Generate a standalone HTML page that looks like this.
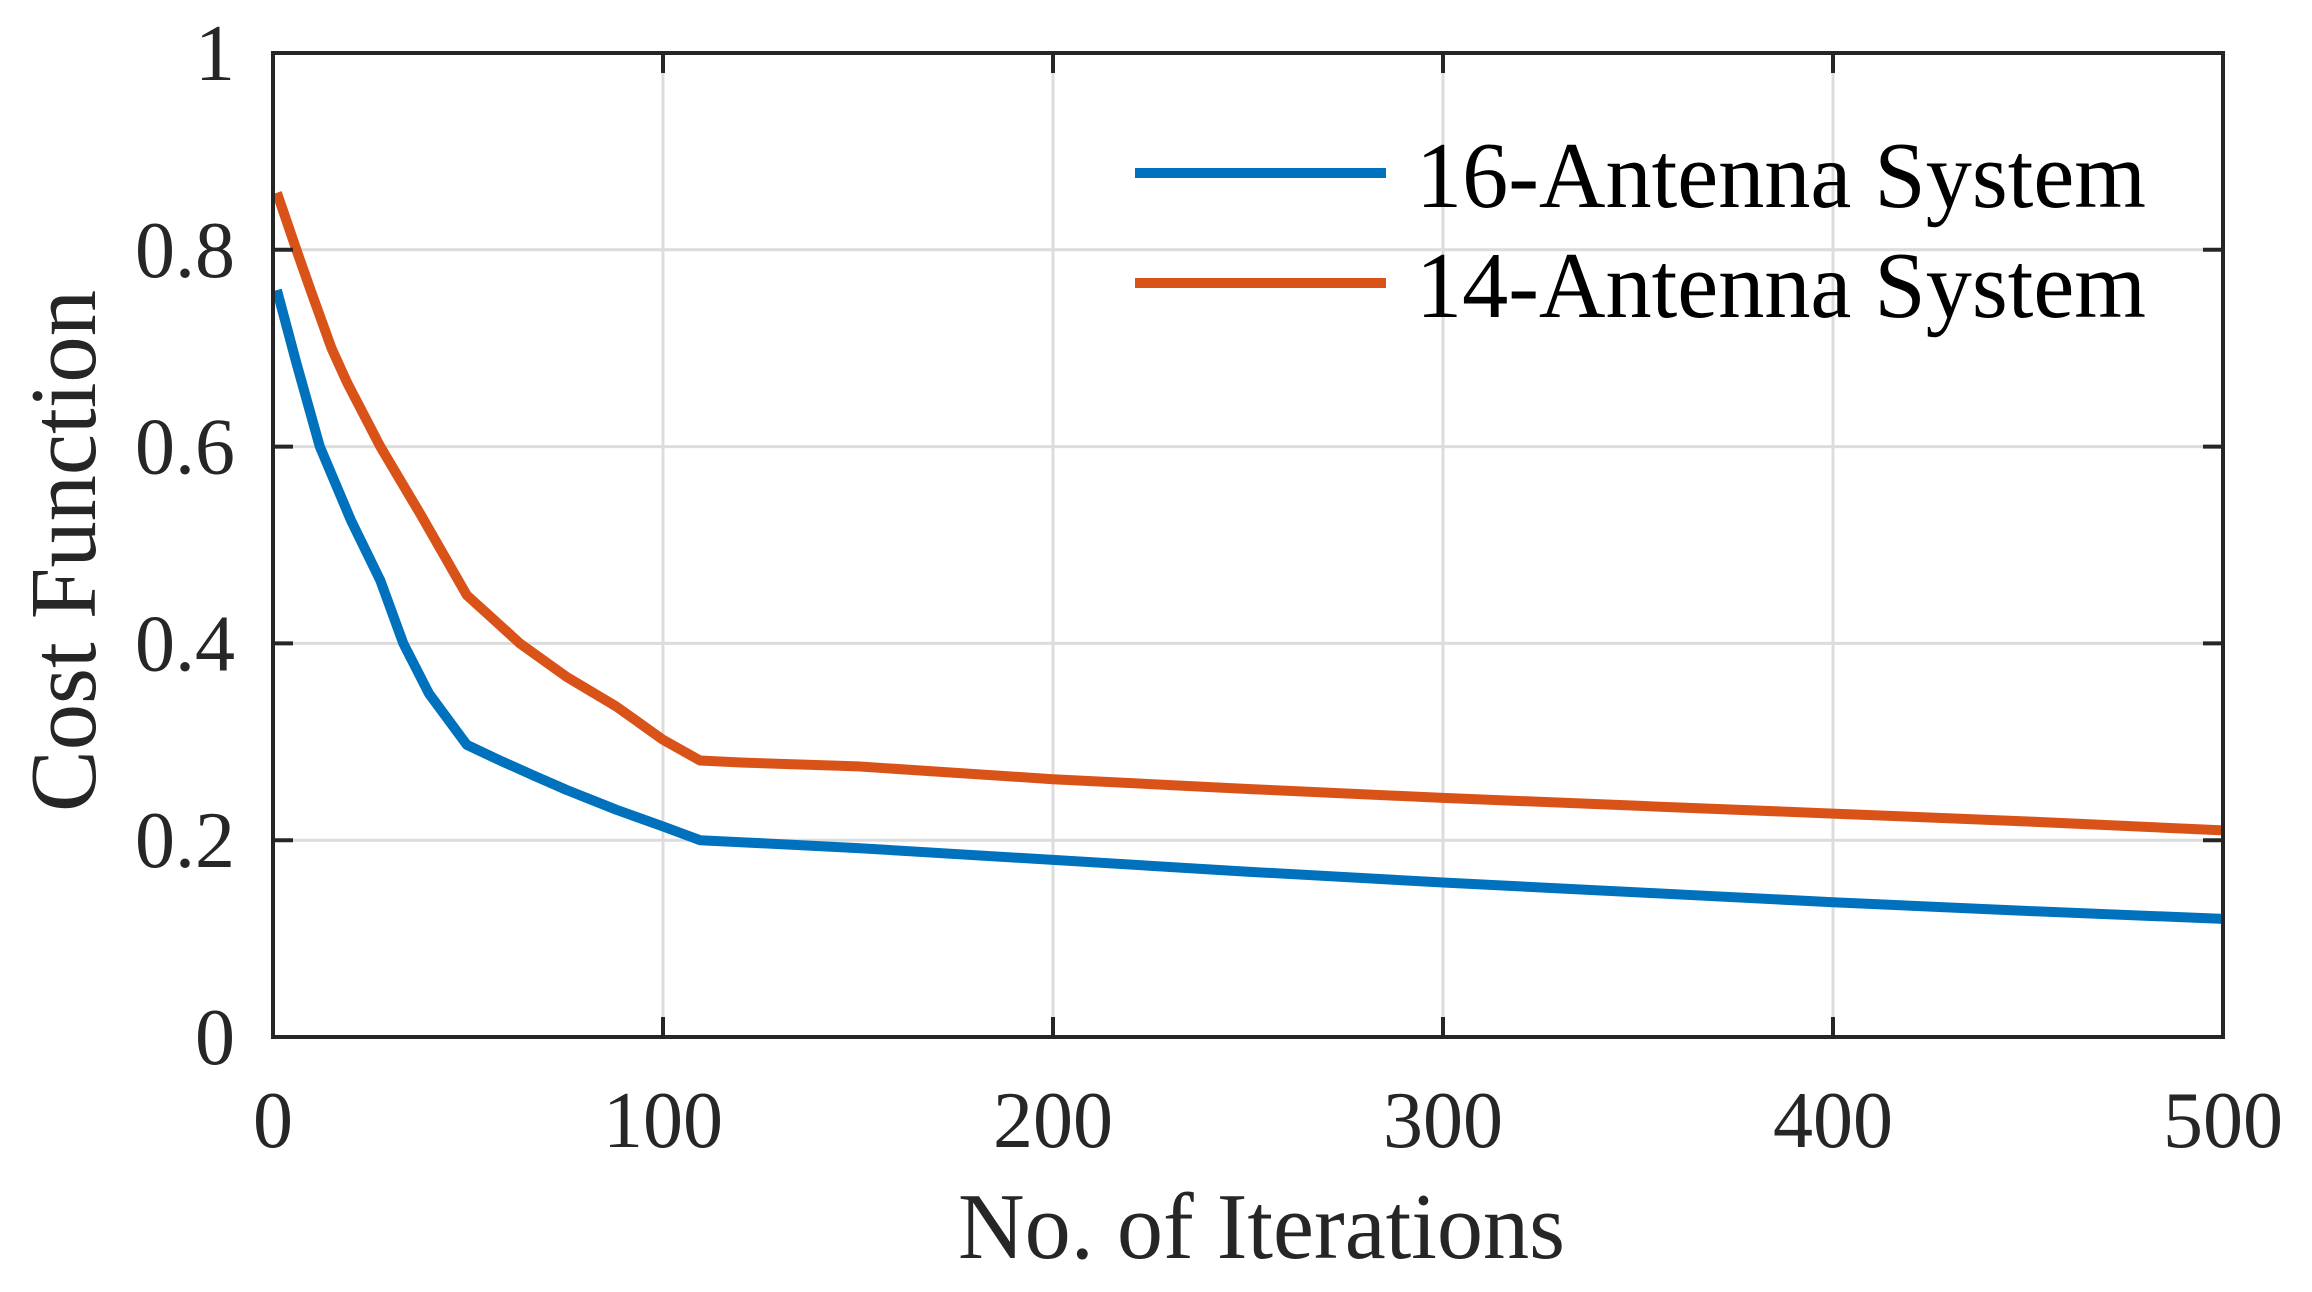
<!DOCTYPE html>
<html><head><meta charset="utf-8"><style>
html,body{margin:0;padding:0;background:#fff;}
svg{display:block;font-family:"Liberation Serif","Times New Roman",serif;}
</style></head><body>
<svg id="chart" width="2312" height="1292" viewBox="0 0 2312 1292"></svg>
<script>
const xTicks = [0,100,200,300,400,500];
const yTicks = [0,0.2,0.4,0.6,0.8,1];
const yTickLabels = ["0","0.2","0.4","0.6","0.8","1"];
const blueIters = [1,6,12,20,27.5,33.4,40,49.7,58.2,66.7,75.3,88,100,109.5,120,150,200,250,300,350,400,450,500];
const blueValues = [0.759,0.685,0.60,0.525,0.464,0.40,0.349,0.297,0.281,0.266,0.251,0.231,0.214,0.200,0.198,0.192,0.180,0.168,0.157,0.147,0.137,0.128,0.120];
const orangeIters = [1,6,10,15,19,27.5,38,49.7,55,63.3,75.3,88,100,109.5,120,150,200,250,300,350,400,450,500];
const orangeValues = [0.858,0.80,0.755,0.70,0.665,0.60,0.53,0.449,0.43,0.40,0.366,0.336,0.302,0.281,0.279,0.275,0.262,0.252,0.243,0.235,0.227,0.219,0.210];
const seriesNames = ["16-Antenna System","14-Antenna System"];
const seriesColors = ["#0072BD","#D95319"];

const L=273,R=2223,T=53,B=1037;
const xS=v=>L+(v-0)/(500-0)*(R-L);
const yS=v=>B-(v-0)/(1-0)*(B-T);
const svg=document.getElementById('chart');
const NS='http://www.w3.org/2000/svg';
function mk(tag,attrs,parent){const e=document.createElementNS(NS,tag);for(const k in attrs)e.setAttribute(k,attrs[k]);(parent||svg).appendChild(e);return e;}

xTicks.forEach(t=>{const g=mk('line',{x1:xS(t),x2:xS(t),y1:T,y2:B,stroke:'#dcdcdc','stroke-width':3});

});
yTicks.forEach(t=>{const g=mk('line',{x1:L,x2:R,y1:yS(t),y2:yS(t),stroke:'#dcdcdc','stroke-width':3});

});

[[blueIters,blueValues],[orangeIters,orangeValues]].forEach((s,i)=>{
  const d=s[1].map((v,j)=>(j?'L':'M')+xS(s[0][j]).toFixed(1)+' '+yS(v).toFixed(1)).join(' ');
  const p=mk('path',{d:d,fill:'none',stroke:seriesColors[i],'stroke-width':10,'stroke-linejoin':'round'});
  
  
});

const box=mk('rect',{x:L,y:T,width:R-L,height:B-T,fill:'none',stroke:'#262626','stroke-width':4});



xTicks.forEach(t=>{
  mk('line',{x1:xS(t),x2:xS(t),y1:B,y2:B-20,stroke:'#262626','stroke-width':4});
  mk('line',{x1:xS(t),x2:xS(t),y1:T,y2:T+20,stroke:'#262626','stroke-width':4});
  const tx=mk('text',{x:xS(t),y:1147,'font-size':80,'text-anchor':'middle',fill:'#262626'});
  tx.textContent=String(t);
  
  
});
yTicks.forEach((t,i)=>{
  mk('line',{x1:L,x2:L+20,y1:yS(t),y2:yS(t),stroke:'#262626','stroke-width':4});
  mk('line',{x1:R,x2:R-20,y1:yS(t),y2:yS(t),stroke:'#262626','stroke-width':4});
  const tx=mk('text',{x:235,y:yS(t)+27,'font-size':80,'text-anchor':'end',fill:'#262626'});
  tx.textContent=yTickLabels[i];
  
  
});

const xt=mk('text',{x:958,y:1258,'font-size':94,textLength:607,lengthAdjust:'spacingAndGlyphs',fill:'#262626'});
xt.textContent='No. of Iterations';


const yt=mk('text',{x:-261,y:0,'font-size':94,textLength:522,lengthAdjust:'spacingAndGlyphs',fill:'#262626',transform:'translate(95,551) rotate(-90)'});
yt.textContent='Cost Function';



[173,283].forEach((yy,i)=>{
  const ln=mk('line',{x1:1135,x2:1386,y1:yy,y2:yy,stroke:seriesColors[i],'stroke-width':10});
  
  
  const tx=mk('text',{x:1416,y:yy+34,'font-size':94,textLength:730,lengthAdjust:'spacingAndGlyphs',fill:'#000'});
  tx.textContent=seriesNames[i];
  
  
});
</script>
</body></html>
